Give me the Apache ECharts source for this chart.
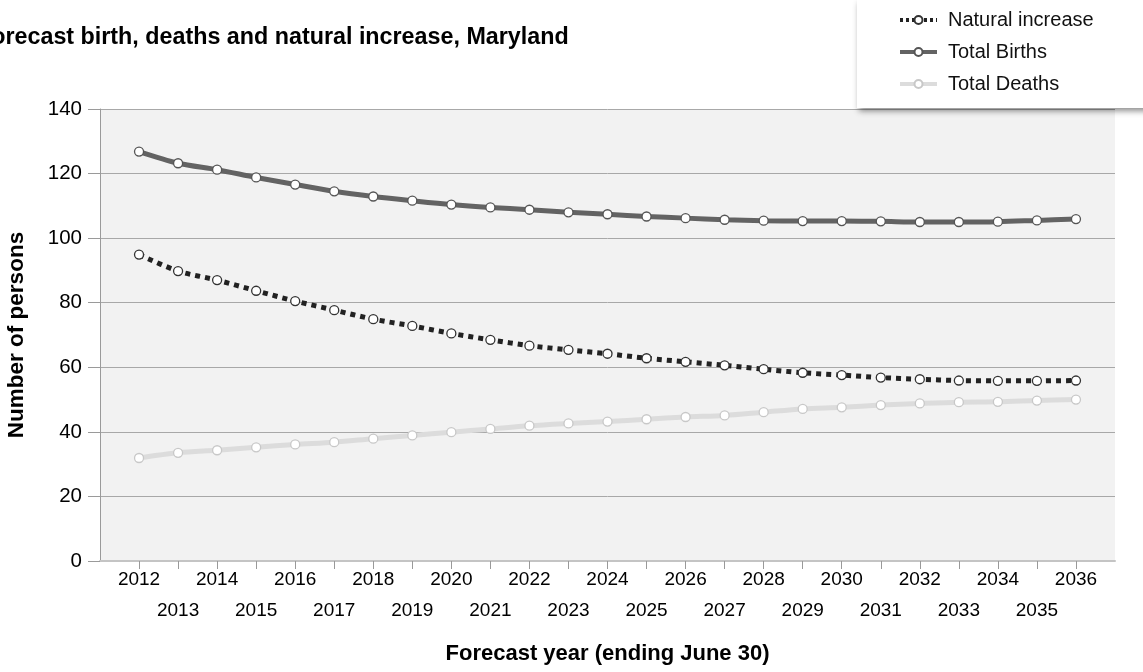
<!DOCTYPE html>
<html>
<head>
<meta charset="utf-8">
<script src="https://cdn.jsdelivr.net/npm/echarts@6/dist/echarts.min.js"></script>
<style>html,body{margin:0;padding:0;background:#fff;}#c{width:1143px;height:672px;}</style>
</head>
<body>
<div id="c"></div>
<script>
var years = [2012,2013,2014,2015,2016,2017,2018,2019,2020,2021,2022,2023,2024,2025,2026,2027,2028,2029,2030,2031,2032,2033,2034,2035,2036];
var naturalIncrease = [94.9,89.8,87.0,83.7,80.5,77.7,74.9,72.8,70.5,68.5,66.7,65.4,64.2,62.8,61.7,60.6,59.4,58.3,57.6,56.8,56.3,55.9,55.8,55.8,55.9];
var totalBirths = [126.8,123.2,121.2,118.8,116.6,114.5,112.9,111.6,110.4,109.5,108.8,108.0,107.4,106.7,106.2,105.7,105.4,105.3,105.3,105.2,105.0,105.0,105.1,105.5,105.9];
var totalDeaths = [31.9,33.5,34.3,35.2,36.1,36.8,37.9,38.9,39.9,40.9,41.9,42.6,43.2,43.9,44.6,45.1,46.1,47.1,47.6,48.3,48.8,49.2,49.3,49.7,50.0];
var yTicks = [0,20,40,60,80,100,120,140];

function pairs(vals){ return years.map(function(y,i){ return [y, vals[i]]; }); }
var FONT = 'Liberation Sans, Arial, sans-serif';

var chart = echarts.init(document.getElementById('c'), null, {renderer:'canvas'});
chart.setOption({
  animation: false,
  backgroundColor: '#ffffff',
  title: {
    text: 'Forecast birth, deaths and natural increase, Maryland',
    left: -28, top: 21,
    textStyle: {fontFamily: FONT, fontSize: 23.3, fontWeight: 'bold', color: '#000'}
  },
  legend: {
    orient: 'vertical',
    left: 857, top: 0,
    padding: [10, 80, 14, 41],
    backgroundColor: '#ffffff',
    shadowBlur: 6, shadowColor: 'rgba(0,0,0,0.45)', shadowOffsetX: 2, shadowOffsetY: 3,
    itemWidth: 37, itemHeight: 10, itemGap: 12,
    textStyle: {fontFamily: FONT, fontSize: 20, color: '#111', padding: [0,0,0,6]},
    data: [
      {name: 'Natural increase', lineStyle: {width: 4, type: [3, 3], color: '#222'}},
      {name: 'Total Births', lineStyle: {width: 4, color: '#636363'}},
      {name: 'Total Deaths', lineStyle: {width: 4, color: '#dcdcdc'}}
    ]
  },
  grid: {
    left: 100, top: 109, right: 28, bottom: 111,
    outerBoundsMode: 'none', containLabel: false,
    show: true, backgroundColor: '#f2f2f2', borderWidth: 0
  },
  xAxis: {
    type: 'value', min: 2011, max: 2037, interval: 1,
    name: 'Forecast year (ending June 30)', nameLocation: 'middle', nameGap: 82,
    nameTextStyle: {fontFamily: FONT, fontSize: 22, fontWeight: 'bold', color: '#000'},
    axisLine: {show: true, lineStyle: {color: '#c4c4c4', width: 2}},
    axisTick: {show: true, length: 8, lineStyle: {color: '#999'}},
    splitLine: {show: false},
    axisLabel: {
      fontFamily: FONT, fontSize: 19, color: '#000', margin: 3, lineHeight: 31,
      verticalAlign: 'top',
      showMinLabel: false, showMaxLabel: false,
      formatter: function(v){
        if (v < years[0] || v > years[years.length-1]) return '';
        return (v % 2 === 0) ? String(v) : '\n' + v;
      }
    }
  },
  yAxis: {
    type: 'value', min: yTicks[0], max: yTicks[yTicks.length-1], interval: 20,
    name: 'Number of persons', nameLocation: 'middle', nameGap: 72, nameRotate: 90,
    nameTextStyle: {fontFamily: FONT, fontSize: 22.5, fontWeight: 'bold', color: '#000'},
    axisLine: {show: true, lineStyle: {color: '#9a9a9a'}},
    axisTick: {show: true, length: 12, lineStyle: {color: '#9a9a9a'}},
    splitLine: {show: true, lineStyle: {color: '#a8a8a8', width: 1}},
    axisLabel: {fontFamily: FONT, fontSize: 20.5, color: '#000', margin: 18}
  },
  series: [
    {
      name: 'Natural increase', type: 'line', data: pairs(naturalIncrease), smooth: 0.3,
      symbol: 'circle', symbolSize: 9, z: 3,
      lineStyle: {color: '#222', width: 5, type: [5, 5]},
      itemStyle: {color: '#ffffff', borderColor: '#333', borderWidth: 1.3}
    },
    {
      name: 'Total Births', type: 'line', data: pairs(totalBirths), smooth: 0.3,
      symbol: 'circle', symbolSize: 9, z: 3,
      lineStyle: {color: '#636363', width: 5},
      itemStyle: {color: '#ffffff', borderColor: '#555', borderWidth: 1.3}
    },
    {
      name: 'Total Deaths', type: 'line', data: pairs(totalDeaths), smooth: 0.3,
      symbol: 'circle', symbolSize: 9, z: 3,
      lineStyle: {color: '#dcdcdc', width: 5},
      itemStyle: {color: '#ffffff', borderColor: '#c8c8c8', borderWidth: 1.3}
    }
  ]
});
</script>
</body>
</html>
